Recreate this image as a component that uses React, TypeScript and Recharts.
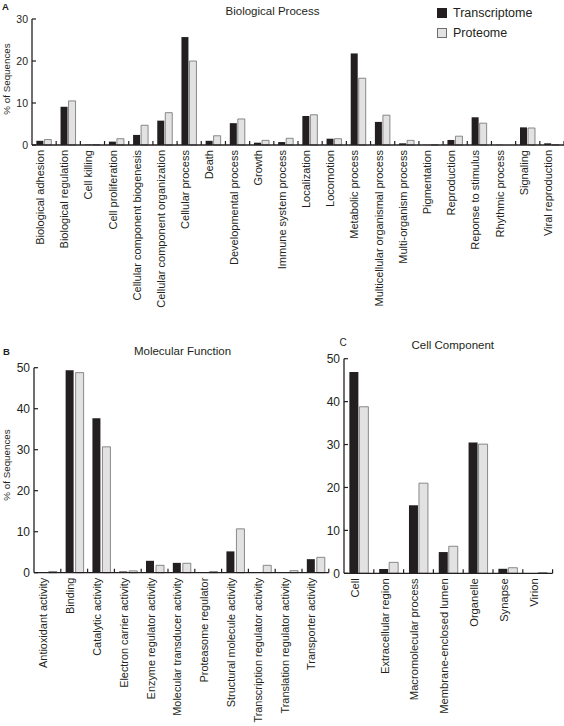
import React from 'react';
import { BarChart, Bar, XAxis, YAxis, Legend } from 'recharts';

// ---------- Data ----------
const bpCategories = [
  'Biological adhesion',
  'Biological regulation',
  'Cell killing',
  'Cell proliferation',
  'Cellular component biogenesis',
  'Cellular component organization',
  'Cellular process',
  'Death',
  'Developmental process',
  'Growth',
  'Immune system process',
  'Localization',
  'Locomotion',
  'Metabolic process',
  'Multicellular organismal process',
  'Multi-organism process',
  'Pigmentation',
  'Reproduction',
  'Reponse to stimulus',
  'Rhythmic process',
  'Signaling',
  'Viral reproduction',
];
const bpTranscriptome = [1.0, 9.1, 0.1, 0.8, 2.4, 5.8, 25.7, 1.0, 5.2, 0.55, 0.7, 6.9, 1.5, 21.8, 5.5, 0.4, 0.05, 1.2, 6.6, 0.05, 4.2, 0.4];
const bpProteome = [1.3, 10.5, 0.1, 1.5, 4.7, 7.7, 20.0, 2.2, 6.2, 1.1, 1.6, 7.2, 1.5, 15.9, 7.1, 1.1, 0.05, 2.1, 5.2, 0, 4.05, 0.05];
const bpTicks = [0, 5, 10, 15, 20, 25, 30];

const mfCategories = [
  'Antioxidant activity',
  'Binding',
  'Catalytic activity',
  'Electron carrier activity',
  'Enzyme regulator activity',
  'Molecular transducer activity',
  'Proteasome regulator',
  'Structural molecule activity',
  'Transcription regulator activity',
  'Translation regulator activity',
  'Transporter activity',
];
const mfTranscriptome = [0, 49.4, 37.7, 0.3, 2.9, 2.4, 0, 5.2, 0, 0, 3.3];
const mfProteome = [0.3, 48.8, 30.7, 0.45, 1.8, 2.3, 0.3, 10.7, 1.8, 0.5, 3.75];

const ccCategories = [
  'Cell',
  'Extracellular region',
  'Macromolecular process',
  'Membrane-enclosed lumen',
  'Organelle',
  'Synapse',
  'Virion',
];
const ccTranscriptome = [46.9, 1.0, 15.85, 4.95, 30.5, 1.05, 0];
const ccProteome = [38.8, 2.55, 21.0, 6.3, 30.1, 1.3, 0.15];
const pctTicks = [0, 10, 20, 30, 40, 50];

const seriesNames = { transcriptome: 'Transcriptome', proteome: 'Proteome' };
const legendOrder = ['transcriptome', 'proteome'];

// ---------- Style ----------
const FONT = '"Liberation Sans", Arial, Helvetica, sans-serif';
const INK = '#231f20';
const DARK = '#231f20';
const LIGHT = '#e2e2e2';
const LIGHT_EDGE = '#6e6e6e';

const build = (cats: string[], t: number[], p: number[]) =>
  cats.map((c, i) => ({ name: c, transcriptome: t[i], proteome: p[i] }));

const bpData = build(bpCategories, bpTranscriptome, bpProteome);
const mfData = build(mfCategories, mfTranscriptome, mfProteome);
const ccData = build(ccCategories, ccTranscriptome, ccProteome);

const makeXTick = (fontSize: number) => (props: any) => {
  const { x, y, payload } = props;
  const half = payload && typeof payload.offset === 'number' ? payload.offset : 0;
  const ty = y + 5;
  return (
    <g>
      {half > 0 && (
        <line x1={x + half} x2={x + half} y1={y} y2={y - 4} stroke={INK} strokeWidth={1.2} />
      )}
      <text
        x={x}
        y={ty}
        transform={`rotate(-90 ${x} ${ty})`}
        textAnchor="end"
        fontSize={fontSize}
        fill={INK}
        fontFamily={FONT}
      >
        {payload.value}
      </text>
    </g>
  );
};

const makeYTick = (fontSize: number) => (props: any) => {
  const { x, y, payload } = props;
  return (
    <g>
      <line x1={x} x2={x + 4} y1={y} y2={y} stroke={INK} strokeWidth={1.2} />
      <text
        x={x - 4}
        y={y}
        dy="0.36em"
        textAnchor="end"
        fontSize={fontSize}
        fill={INK}
        fontFamily={FONT}
      >
        {payload.value}
      </text>
    </g>
  );
};

const renderLegend = (props: any) => {
  const raw = (props && props.payload) || [];
  const items = [...raw].sort(
    (a: any, b: any) => legendOrder.indexOf(a.dataKey) - legendOrder.indexOf(b.dataKey)
  );
  return (
    <div style={{ fontFamily: FONT }}>
      {items.map((entry: any, i: number) => {
        const isLight = entry.dataKey === 'proteome';
        return (
          <div key={i} style={{ display: 'flex', alignItems: 'center', height: 20 }}>
            <span
              style={{
                display: 'inline-block',
                width: isLight ? 8 : 10,
                height: isLight ? 8 : 10,
                background: isLight ? LIGHT : DARK,
                border: isLight ? `1px solid ${LIGHT_EDGE}` : 'none',
              }}
            />
            <span style={{ marginLeft: 6, fontSize: 12.5, color: INK, lineHeight: '20px' }}>
              {entry.value}
            </span>
          </div>
        );
      })}
    </div>
  );
};

const axisLine = { stroke: INK, strokeWidth: 1.3 };

export default function App() {
  return (
    <div
      style={{
        position: 'absolute',
        left: 0,
        top: 0,
        width: 564,
        height: 726,
        background: '#ffffff',
        overflow: 'hidden',
      }}
    >
      {/* Panel A */}
      <div style={{ position: 'absolute', left: 0, top: 0 }}>
        <BarChart
          width={564}
          height={330}
          data={bpData}
          margin={{ top: 19, right: 0, bottom: 0, left: 0 }}
          barCategoryGap="18%"
          barGap={1}
        >
          <XAxis
            dataKey="name"
            interval={0}
            height={185}
            tickSize={0}
            tickMargin={0}
            tickLine={false}
            axisLine={axisLine}
            tick={makeXTick(11)}
          />
          <YAxis
            width={32}
            domain={[0, 30]}
            ticks={bpTicks}
            tickSize={0}
            tickMargin={0}
            tickLine={false}
            axisLine={axisLine}
            tick={makeYTick(10.5)}
          />
          <Legend
            layout="horizontal"
            verticalAlign="middle"
            align="center"
            wrapperStyle={{ position: 'absolute', top: 3, left: 437, width: 127, height: 40 }}
            content={renderLegend}
          />
          <Bar dataKey="transcriptome" name={seriesNames.transcriptome} fill={DARK} isAnimationActive={false} />
          <Bar
            dataKey="proteome"
            name={seriesNames.proteome}
            fill={LIGHT}
            stroke={LIGHT_EDGE}
            strokeWidth={0.8}
            isAnimationActive={false}
          />
        </BarChart>
      </div>

      {/* Panel B */}
      <div style={{ position: 'absolute', left: 0, top: 330 }}>
        <BarChart
          width={330}
          height={396}
          data={mfData}
          margin={{ top: 37.7, right: 1.2, bottom: 0, left: 0 }}
          barCategoryGap="18%"
          barGap={2}
        >
          <XAxis
            dataKey="name"
            interval={0}
            height={153.3}
            tickSize={0}
            tickMargin={0}
            tickLine={false}
            axisLine={axisLine}
            tick={makeXTick(10.9)}
          />
          <YAxis
            width={34}
            domain={[0, 50]}
            ticks={pctTicks}
            tickSize={0}
            tickMargin={0}
            tickLine={false}
            axisLine={axisLine}
            tick={makeYTick(12)}
          />
          <Bar dataKey="transcriptome" name={seriesNames.transcriptome} fill={DARK} isAnimationActive={false} />
          <Bar
            dataKey="proteome"
            name={seriesNames.proteome}
            fill={LIGHT}
            stroke={LIGHT_EDGE}
            strokeWidth={0.8}
            isAnimationActive={false}
          />
        </BarChart>
      </div>

      {/* Panel C */}
      <div style={{ position: 'absolute', left: 320, top: 330 }}>
        <BarChart
          width={244}
          height={396}
          data={ccData}
          margin={{ top: 28.7, right: 11.4, bottom: 0, left: 0 }}
          barCategoryGap="18%"
          barGap={1}
        >
          <XAxis
            dataKey="name"
            interval={0}
            height={152.7}
            tickSize={0}
            tickMargin={0}
            tickLine={false}
            axisLine={axisLine}
            tick={makeXTick(11.2)}
          />
          <YAxis
            width={24}
            domain={[0, 50]}
            ticks={pctTicks}
            tickSize={0}
            tickMargin={0}
            tickLine={false}
            axisLine={axisLine}
            tick={makeYTick(12)}
          />
          <Bar dataKey="transcriptome" name={seriesNames.transcriptome} fill={DARK} isAnimationActive={false} />
          <Bar
            dataKey="proteome"
            name={seriesNames.proteome}
            fill={LIGHT}
            stroke={LIGHT_EDGE}
            strokeWidth={0.8}
            isAnimationActive={false}
          />
        </BarChart>
      </div>

      {/* Titles, panel letters, axis titles */}
      <svg
        width={564}
        height={726}
        style={{ position: 'absolute', left: 0, top: 0, pointerEvents: 'none' }}
        fontFamily={FONT}
        fill={INK}
      >
        <text x={2} y={10} fontSize={9.5} fontWeight="bold">A</text>
        <text x={272.5} y={15.2} fontSize={11.5} textAnchor="middle">Biological Process</text>
        <text
          x={9.5}
          y={79}
          fontSize={9.8}
          textAnchor="middle"
          transform="rotate(-90 9.5 79)"
        >
          % of Sequences
        </text>

        <text x={3} y={354.5} fontSize={9.5} fontWeight="bold">B</text>
        <text x={182.5} y={355.2} fontSize={11.5} textAnchor="middle">Molecular Function</text>
        <text
          x={9.5}
          y={465}
          fontSize={9.8}
          textAnchor="middle"
          transform="rotate(-90 9.5 465)"
        >
          % of Sequences
        </text>

        <text x={339.5} y={346} fontSize={10}>C</text>
        <text x={452.8} y={349.2} fontSize={11.5} textAnchor="middle">Cell Component</text>
      </svg>
    </div>
  );
}
